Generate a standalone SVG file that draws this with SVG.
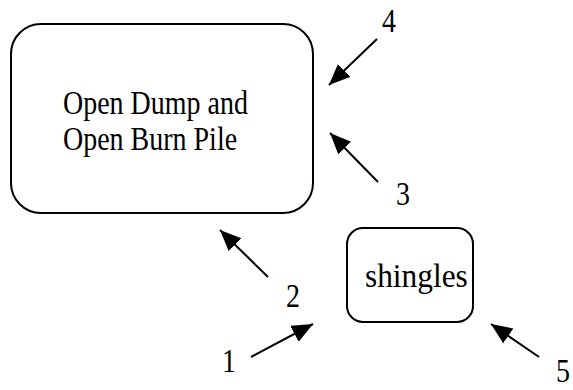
<svg xmlns="http://www.w3.org/2000/svg" width="573" height="390" viewBox="0 0 573 390">
<defs>
<marker id="ah" markerUnits="userSpaceOnUse" markerWidth="24" markerHeight="20" refX="21" refY="9" orient="auto">
<path d="M0,0 L21,9 L0,18 Z" fill="#000"/>
</marker>
<style>
.box{fill:#fff;stroke:#000;stroke-width:2}
.t{font-family:"Liberation Serif","Times New Roman",serif;font-size:28px;fill:#000}
.c{stroke:#000;stroke-width:2;fill:none;marker-end:url(#ah)}
</style>
</defs>
<rect width="573" height="390" fill="#fff"/>
<g id="dump">
<rect class="box" x="11" y="24" width="302" height="189" rx="30" ry="30"/>
<text class="t" transform="translate(63,114) scale(1,1.2)">Open Dump and</text>
<text class="t" transform="translate(63,150) scale(1,1.2)">Open Burn Pile</text>
</g>
<g id="shingles">
<rect class="box" x="347" y="228" width="126" height="94" rx="16" ry="16"/>
<text class="t" transform="translate(365,287) scale(1.12,1.2)">shingles</text>
</g>
<g id="connectors">
<line class="c" x1="377" y1="39" x2="329" y2="85"/>
<line class="c" x1="378" y1="182" x2="330" y2="133"/>
<line class="c" x1="268" y1="277" x2="220" y2="230"/>
<line class="c" x1="251" y1="357" x2="313" y2="324"/>
<line class="c" x1="539" y1="357" x2="491" y2="324"/>
</g>
<g id="labels">
<text class="t" transform="translate(382,32) scale(1,1.2)">4</text>
<text class="t" transform="translate(396,205) scale(1,1.2)">3</text>
<text class="t" transform="translate(286,307) scale(1,1.2)">2</text>
<text class="t" transform="translate(222,372) scale(1,1.2)">1</text>
<text class="t" transform="translate(556,382) scale(1,1.2)">5</text>
</g>
</svg>
